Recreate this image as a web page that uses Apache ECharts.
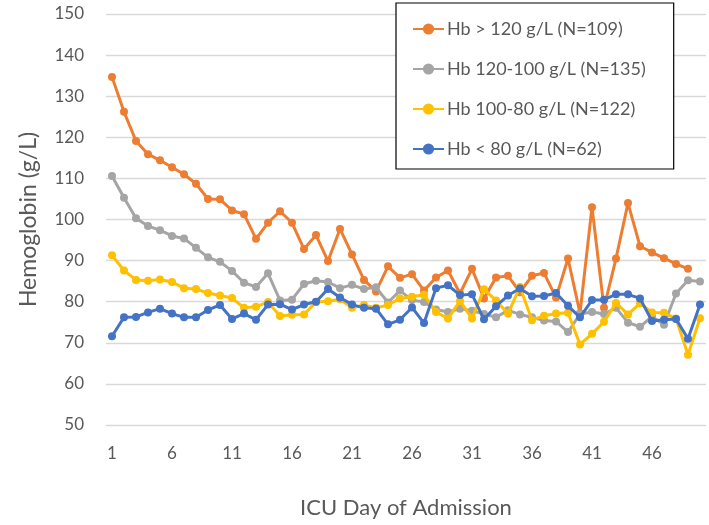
<!DOCTYPE html>
<html>
<head>
<meta charset="utf-8">
<script src="https://cdn.jsdelivr.net/npm/echarts@6/dist/echarts.min.js"></script>
<style>
html,body{margin:0;padding:0;background:#fff;}
#chart{width:709px;height:525px;}
</style>
</head>
<body>
<div id="chart"></div>
<script>
const days = Array.from({length: 50}, (_, i) => String(i + 1));
const seriesNames = ['Hb > 120 g/L (N=109)', 'Hb 120-100 g/L (N=135)', 'Hb 100-80 g/L (N=122)', 'Hb < 80 g/L (N=62)'];
const hbAbove120 = [134.7,126.2,119.1,115.9,114.4,112.7,111,108.7,105,104.9,102.2,101.3,95.3,99.2,102,99.2,92.8,96.2,89.9,97.7,91.5,85.3,82.5,88.6,85.8,86.7,82.7,85.9,87.6,82,88,80.8,85.9,86.3,82.3,86.3,87,81,90.5,77.2,103,78.5,90.5,104,93.5,92,90.6,89.2,88];
const hb120to100 = [110.6,105.3,100.3,98.4,97.4,96,95.4,93.1,90.8,89.7,87.5,84.6,83.6,86.9,80.3,80.5,84.3,85.1,84.8,83.3,84.1,83.1,83.5,79.8,82.7,80.4,79.9,78.1,77.5,78.3,77.8,77,76.2,77.9,76.9,76.2,75.4,75.2,72.6,77,77.5,77,78.5,74.9,73.9,76.4,74.4,82,85.2,84.9];
const hb100to80 = [91.3,87.6,85.3,85.1,85.4,84.8,83.3,83.1,82.1,81.5,80.9,78.5,78.8,79.9,76.5,76.8,76.9,79.9,80.1,80.6,78.5,79.2,78.5,79.2,80.8,81.2,81.7,77.5,75.9,80.2,75.9,83,80.3,77.1,83.6,75.5,76.6,77.1,77.3,69.6,72.2,75.1,79.7,76.9,79.6,77.4,77.3,75.9,67.1,76];
const hbBelow80 = [71.6,76.2,76.3,77.4,78.3,77.1,76.2,76.2,78,79.2,75.8,77.1,75.6,79.3,79.4,78.1,79.3,80,83.1,81,79.3,78.5,78.3,74.5,75.6,78.6,74.8,83.3,84,81.6,81.8,75.7,78.9,81.5,83.2,81.3,81.4,82.1,79,76.2,80.4,80.5,81.8,81.8,80.8,75.3,75.6,75.8,71,79.3];
const colors = ['#ED7D31', '#A5A5A5', '#FFC000', '#4472C4'];
const allData = [hbAbove120, hb120to100, hb100to80, hbBelow80];

const font = 'Lato, "Open Sans", sans-serif';
const chart = echarts.init(document.getElementById('chart'));
chart.setOption({
  animation: false,
  color: colors,
  textStyle: {fontFamily: font},
  grid: {left: 106, right: 3, top: 14, bottom: 100},
  legend: {
    orient: 'vertical',
    left: 396, top: 3,
    padding: [17, 28, 11, 16],
    itemGap: 22,
    itemWidth: 31, itemHeight: 14,
    backgroundColor: '#fff',
    borderColor: '#000', borderWidth: 1.2,
    textStyle: {fontSize: 18, color: '#595959', fontFamily: font, lineHeight: 18, padding: [0, 0, 0, -2]},
    data: seriesNames
  },
  xAxis: {
    type: 'category',
    data: days,
    boundaryGap: true,
    name: 'ICU Day of Admission',
    nameLocation: 'middle',
    nameGap: 72,
    nameTextStyle: {fontSize: 22, color: '#595959', fontFamily: font},
    axisLine: {lineStyle: {color: '#d9d9d9'}},
    axisTick: {show: false},
    axisLabel: {interval: 4, fontSize: 17, color: '#595959', margin: 20, fontFamily: font}
  },
  yAxis: {
    type: 'value',
    min: 50, max: 150, interval: 10,
    name: 'Hemoglobin (g/L)',
    nameLocation: 'middle',
    nameGap: 66,
    nameTextStyle: {fontSize: 23, color: '#595959', fontFamily: font},
    axisLine: {show: false},
    axisTick: {show: false},
    axisLabel: {fontSize: 17, color: '#595959', margin: 22, fontFamily: font},
    splitLine: {lineStyle: {color: '#d9d9d9', width: 1.3}}
  },
  series: seriesNames.map((n, i) => ({
    name: n,
    type: 'line',
    data: allData[i],
    symbol: 'circle',
    symbolSize: 8,
    lineStyle: {width: 3, color: colors[i]},
    itemStyle: {color: colors[i]},
    z: 2 + i
  }))
});
</script>
</body>
</html>
